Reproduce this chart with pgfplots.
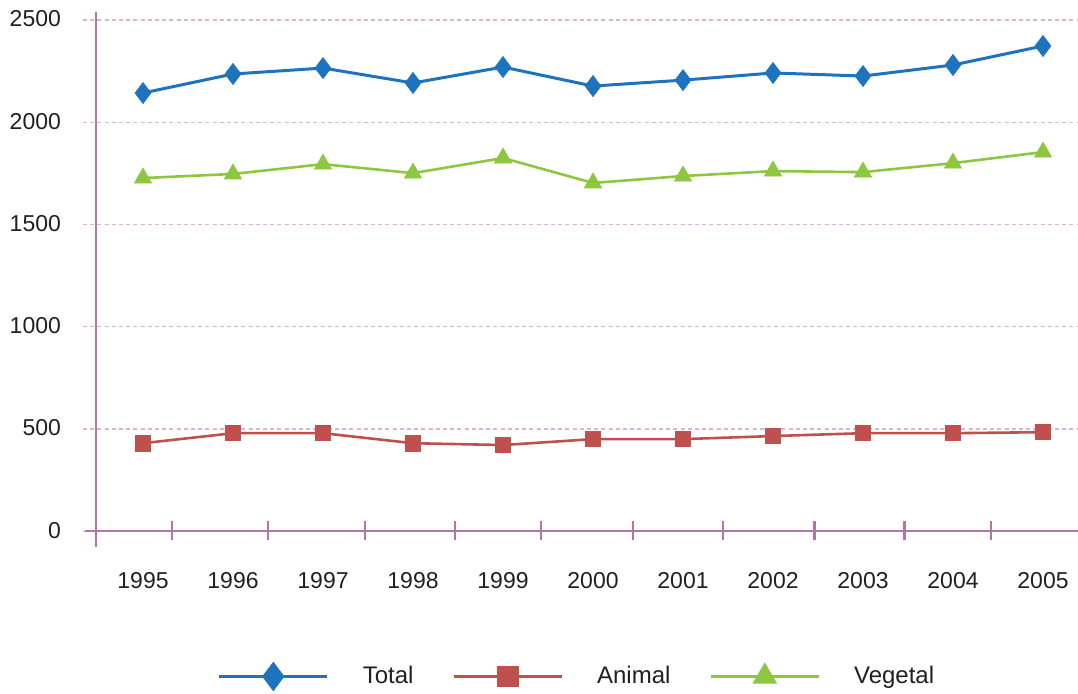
\documentclass[border=0pt]{standalone}
\usepackage{pgfplots}
\pgfplotsset{compat=1.18}
\usepackage{fontspec}
\setmainfont{Liberation Sans}
\definecolor{cTotal}{RGB}{30,115,190}
\definecolor{cAnimal}{RGB}{192,80,77}
\definecolor{cVeg}{RGB}{141,198,63}
\definecolor{cAxis}{RGB}{176,118,168}
\definecolor{cGrid}{RGB}{222,178,214}
\definecolor{cText}{RGB}{35,31,32}
\begin{document}
\begin{tikzpicture}
\begin{axis}[
  scale only axis,
  width=497.5pt, height=267.8pt,
  xmin=-0.667, xmax=10.389,
  ymin=-80, ymax=2540,
  clip=false,
  axis line style={draw=none},
  major tick length=0pt,
  xtick={0,...,10},
  xticklabels={1995,1996,1997,1998,1999,2000,2001,2002,2003,2004,2005},
  ytick={0,500,1000,1500,2000,2500},
  ymajorgrids,
  grid style={cGrid, line width=0.6pt, dash pattern=on 2pt off 1.6pt},
  /pgf/number format/assume math mode=true,
  /pgf/number format/1000 sep={},
  tick label style={font=\fontsize{11.5}{13}\selectfont, text=cText},
  xticklabel style={yshift=-9pt},
  yticklabel style={xshift=-7.5pt, yshift=0.5pt},
  legend columns=3,
  legend style={draw=none, fill=none, at={([yshift=-64.5pt]axis description cs:0.4975,0)}, anchor=center,
    font=\fontsize{12}{14}\selectfont, text=cText,
    /tikz/every odd column/.append style={column sep=15pt},
    /tikz/every even column/.append style={column sep=17.5pt}},
  legend image code/.code={\draw[mark repeat=2,mark phase=2,/tikz/every mark/.append style={scale=1.35}] plot coordinates {(0pt,0pt) (27pt,0pt) (54pt,0pt)};},
]
\draw[cAxis, line width=1.1pt] (axis cs:-0.522,-78) -- (axis cs:-0.522,2540);
\draw[cAxis, line width=1.1pt] (axis cs:-0.644,0) -- (axis cs:10.389,0);
\pgfplotsinvokeforeach{0.32,1.39,2.47,3.47,4.42,5.44,6.44,7.46,8.46,9.42}{
  \draw[cAxis, line width=1.1pt] (axis cs:#1,49) -- (axis cs:#1,-44);
}
\addplot[cTotal, line width=1.5pt, mark=diamond*, mark size=5.3pt, mark options={solid, fill=cTotal, draw=cTotal, line width=0.3pt}]
 coordinates {(0,2143) (1,2236) (2,2265) (3,2192) (4,2270) (5,2177) (6,2206) (7,2241) (8,2226) (9,2280) (10,2373)};
\addlegendentry{Total}
\addplot[cAnimal, line width=1.3pt, mark=square*, mark size=3.8pt, mark options={solid, fill=cAnimal, draw=cAnimal, line width=0.3pt}]
 coordinates {(0,430) (1,479) (2,479) (3,430) (4,421) (5,450) (6,450) (7,465) (8,479) (9,479) (10,484)};
\addlegendentry{Animal}
\addplot[cVeg, line width=1.3pt, mark=triangle*, mark size=5pt, mark options={solid, fill=cVeg, draw=cVeg, line width=0.3pt}]
 coordinates {(0,1727) (1,1747) (2,1795) (3,1751) (4,1825) (5,1703) (6,1737) (7,1761) (8,1756) (9,1800) (10,1854)};
\addlegendentry{Vegetal}
\coordinate (bl) at (axis cs:-1.589,-792.6);
\coordinate (tr) at (axis cs:10.389,2598);
\end{axis}
\pgfresetboundingbox
\path[use as bounding box] (bl) rectangle (tr);
\end{tikzpicture}
\end{document}
